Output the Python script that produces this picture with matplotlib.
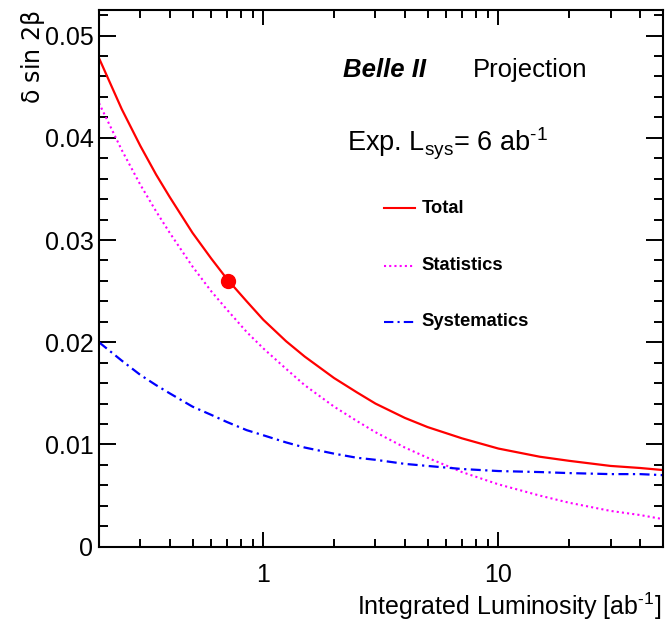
import numpy as np
import matplotlib
matplotlib.use('Agg')
import matplotlib.pyplot as plt
from matplotlib.ticker import LogLocator, FuncFormatter, NullFormatter, MultipleLocator

plt.rcParams['font.family'] = ['Liberation Sans', 'DejaVu Sans']
plt.rcParams['mathtext.fontset'] = 'custom'
plt.rcParams['mathtext.rm'] = 'Liberation Sans'
plt.rcParams['mathtext.it'] = 'Liberation Sans:italic'
plt.rcParams['mathtext.bf'] = 'Liberation Sans:bold'

# values (integrated luminosity in ab^-1)
lumi = [0.2, 0.25, 0.3, 0.35, 0.4, 0.5, 0.6, 0.7, 0.85, 1, 1.25, 1.5, 2, 2.5, 3, 4, 5, 7, 10, 15, 20, 30, 40, 50]
total = [0.0478, 0.0428, 0.0392, 0.0364, 0.0342, 0.0307, 0.0282, 0.0262, 0.0240, 0.0222, 0.0201,
         0.0186, 0.0165, 0.0151, 0.0140, 0.0126, 0.0117, 0.0106, 0.0096, 0.0088, 0.0084, 0.0079,
         0.0077, 0.0075]
stat = [0.0434, 0.0388, 0.0354, 0.0328, 0.0307, 0.0274, 0.0250, 0.0232, 0.0210, 0.0194, 0.0174,
        0.0158, 0.0137, 0.0123, 0.0112, 0.0097, 0.0087, 0.0073, 0.0061, 0.0050, 0.0043, 0.0035,
        0.0031, 0.0027]
syst = [0.0200, 0.0182, 0.0168, 0.0158, 0.0150, 0.0137, 0.0129, 0.0122, 0.0114, 0.0109, 0.0102,
        0.0097, 0.0091, 0.0087, 0.0085, 0.0081, 0.0079, 0.0076, 0.0074, 0.0073, 0.0072, 0.0071,
        0.0071, 0.0070]
belle_lumi = [0.711]
belle_err = [0.026]

fig = plt.figure(figsize=(6.72, 6.26), dpi=100)
ax = fig.add_axes([0.1473, 0.1267, 0.8388, 0.8573])

ax.plot(lumi, total, color='#ff0000', lw=1.6)
ax.plot(lumi, stat, color='#ff00ff', lw=1.5, linestyle=(0, (1, 1.5)))
ax.plot(lumi, syst, color='#0000ff', lw=1.6, linestyle=(0, (4.5, 2, 1, 2)))
ax.plot(belle_lumi, belle_err, 'o', color='#ff0000', ms=10)

ax.set_xscale('log')
ax.set_xlim(0.2, 50)
ax.set_ylim(0, 0.0525)

ax.xaxis.set_major_locator(LogLocator(base=10))
ax.xaxis.set_minor_locator(LogLocator(base=10, subs=np.arange(2, 10)))
ax.xaxis.set_major_formatter(FuncFormatter(lambda v, p: '%g' % v))
ax.xaxis.set_minor_formatter(NullFormatter())
ax.yaxis.set_major_locator(MultipleLocator(0.01))
ax.yaxis.set_minor_locator(MultipleLocator(0.002))
ax.yaxis.set_major_formatter(FuncFormatter(lambda v, p: '0' if abs(v) < 1e-9 else '%.2f' % v))

ax.tick_params(which='both', direction='in', top=True, right=True, width=1.4, labelsize=18)
ax.tick_params(axis='y', which='major', length=12, pad=4)
ax.tick_params(axis='y', which='minor', length=6.5)
ax.tick_params(axis='x', which='major', length=11, pad=12)
ax.tick_params(axis='x', which='minor', length=5.5)
for s in ax.spines.values():
    s.set_linewidth(1.5)

fig.text(661.7 / 672, 1 - 606 / 626, 'Integrated Luminosity [ab$^{\u2010\\mathregular{1}}$]',
         ha='right', va='center', fontsize=18)
fig.text(33 / 672, 1 - 10 / 626, r'$\mathregular{\delta}$ sin 2$\mathregular{\beta}$', rotation=90,
         ha='center', va='top', fontsize=17, family=['DejaVu Sans'])

fig.text(343 / 672, 1 - 77 / 626, 'Belle II', fontsize=18.5, fontweight='bold', fontstyle='italic',
         ha='left', va='baseline')
fig.text(472.5 / 672, 1 - 77 / 626, 'Projection', fontsize=18.5, ha='left', va='baseline')
fig.text(347 / 672, 1 - 151.5 / 626, 'Exp. L$_{\\mathregular{sys}}$= 6 ab$^{\u2010\\mathregular{1}}$',
         fontsize=19.5, ha='left', va='baseline')

# legend entries
leg = [('Total', 208.3, '#ff0000', '-'),
       ('Statistics', 265.7, '#ff00ff', (0, (1, 1.5))),
       ('Systematics', 321.7, '#0000ff', (0, (4.5, 2, 1, 2)))]
for name, ypx, col, ls in leg:
    fig.add_artist(plt.Line2D([384 / 672, 415 / 672], [1 - ypx / 626, 1 - ypx / 626],
                              color=col, lw=1.5, linestyle=ls))
    fig.text(421.5 / 672, 1 - ypx / 626, name, fontsize=13.2, fontweight='bold', ha='left', va='center')

fig.savefig('out.png', dpi=100)
